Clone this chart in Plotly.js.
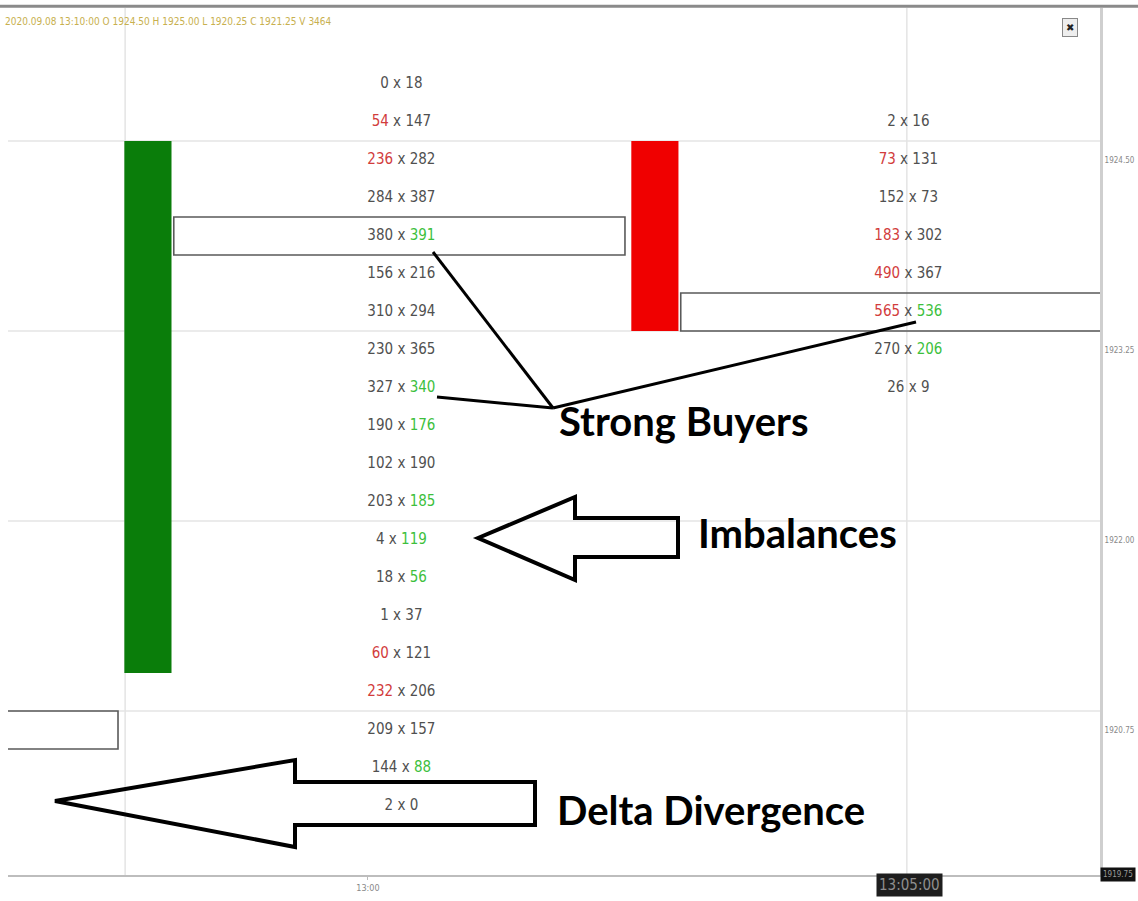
<!DOCTYPE html>
<html>
<head>
<meta charset="utf-8">
<script src="https://cdn.plot.ly/plotly-3.0.1.min.js"></script>
<style>html,body{margin:0;padding:0;background:#fff;}#chart{width:1138px;height:901px;}</style>
</head>
<body>
<div id="chart"></div>
<script>
// ---------- data ----------
const headerText = "2020.09.08 13:10:00 O 1924.50 H 1925.00 L 1920.25 C 1921.25 V 3464";

// price ladder of bar 1 (13:00)
const prices1 = [1925.00,1924.75,1924.50,1924.25,1924.00,1923.75,1923.50,1923.25,1923.00,1922.75,
                 1922.50,1922.25,1922.00,1921.75,1921.50,1921.25,1921.00,1920.75,1920.50,1920.25];
const bid1 = [0,54,236,284,380,156,310,230,327,190,102,203,4,18,1,60,232,209,144,2];
const ask1 = [18,147,282,387,391,216,294,365,340,176,190,185,119,56,37,121,206,157,88,0];
const bidImb1 = [0,1,1,0,0,0,0,0,0,0,0,0,0,0,0,1,1,0,0,0];
const askImb1 = [0,0,0,0,1,0,0,0,1,1,0,1,1,1,0,0,0,0,1,0];

// price ladder of bar 2 (13:05)
const prices2 = [1924.75,1924.50,1924.25,1924.00,1923.75,1923.50,1923.25,1923.00];
const bid2 = [2,73,152,183,490,565,270,26];
const ask2 = [16,131,73,302,367,536,206,9];
const bidImb2 = [0,1,0,1,1,1,0,0];
const askImb2 = [0,0,0,0,0,1,1,0];

// candles (bar slot index, open, close)
const candleSlot  = [0, 1];
const candleOpen  = [1921.25, 1924.50];
const candleClose = [1924.50, 1923.50];

// highlighted imbalance rows (bar slot, price)
const boxSlot  = [-1, 0, 1];
const boxPrice = [1920.75, 1924.00, 1923.50];

// axis labels
const priceTicks = [1924.50, 1923.25, 1922.00, 1920.75];
const priceTickText = ["1924.50", "1923.25", "1922.00", "1920.75"];
const timeTickText = ["13:00"];
const crossTimeText = "13:05:00";
const crossPriceText = "1919.75";

// ---------- layout helpers ----------
const TICK = 0.25;
const L = 8, R = 1100, T = 8, B = 875;
const XR = [-0.276, 1.878], YR = [1919.796, 1925.5];
const px = p => (p - L) / (R - L);            // pixel -> paper x
const py = p => 1 - (p - T) / (B - T);        // pixel -> paper y
const RED = "#d23c3c", GREEN = "#3dbf3d", GRAY = "#505050";

function cellText(b, a, bi, ai) {
  const bs = bi ? `<span style="color:${RED}">${b}</span>` : `${b}`;
  const as = ai ? `<span style="color:${GREEN}">${a}</span>` : `${a}`;
  return bs + " x " + as;
}

const traces = [];
// candles
traces.push({
  type: "bar",
  x: candleSlot,
  base: candleOpen.map((o, i) => Math.min(o, candleClose[i]) - TICK / 2),
  y: candleOpen.map((o, i) => Math.abs(candleClose[i] - o) + TICK),
  width: 0.093,
  marker: {color: candleOpen.map((o, i) => candleClose[i] >= o ? "#0a7d0a" : "#f00000"),
           line: {width: 0}},
  hoverinfo: "skip", showlegend: false
});
// number columns
[[prices1, bid1, ask1, bidImb1, askImb1, 0], [prices2, bid2, ask2, bidImb2, askImb2, 1]].forEach(s => {
  traces.push({
    type: "scatter", mode: "text",
    x: s[0].map(() => s[5] + 0.5),
    y: s[0],
    text: s[0].map((p, i) => cellText(s[1][i], s[2][i], s[3][i], s[4][i])),
    textposition: "middle center",
    textfont: {family: "DejaVu Sans Condensed, sans-serif", size: 15, color: GRAY},
    hoverinfo: "skip", showlegend: false, cliponaxis: false
  });
});

const shapes = [];
// horizontal grid lines (top edge of each labelled row)
priceTicks.forEach(p => shapes.push({type: "line", xref: "paper", yref: "y", x0: 0, x1: 1,
  y0: p + TICK / 2, y1: p + TICK / 2, line: {color: "#e4e4e4", width: 1.5}, layer: "below"}));
// vertical grid lines
[-0.045, 1.497].forEach(x => shapes.push({type: "line", xref: "x", yref: "paper", x0: x, x1: x,
  y0: 0, y1: 1, line: {color: "#e4e4e4", width: 1.5}, layer: "below"}));
// imbalance boxes
boxSlot.forEach((k, i) => shapes.push({type: "rect", xref: "x", yref: "y",
  x0: k + 0.051, x1: k + 0.941, y0: boxPrice[i] - TICK / 2, y1: boxPrice[i] + TICK / 2,
  line: {color: "#5a5a5a", width: 1.6}, fillcolor: "rgba(0,0,0,0)", layer: "below"}));
// top frame line
shapes.push({type: "line", xref: "paper", yref: "paper", x0: -0.01, x1: 1.035, y0: 1.002, y1: 1.002,
  line: {color: "#8a8a8a", width: 3}});
// connector lines to "Strong Buyers"
const poly = pts => "M" + pts.map(p => px(p[0]) + "," + py(p[1])).join(" L") + " Z";
const seg = (a, b) => ({type: "line", xref: "paper", yref: "paper", x0: px(a[0]), y0: py(a[1]),
  x1: px(b[0]), y1: py(b[1]), line: {color: "#000", width: 3}});
shapes.push(seg([433, 252], [553, 408]));
shapes.push(seg([437, 397], [553, 408]));
shapes.push(seg([553, 408], [916, 322]));
// hollow arrows
shapes.push({type: "path", xref: "paper", yref: "paper",
  path: poly([[478, 538], [575, 497], [575, 518], [678, 518], [678, 557], [575, 557], [575, 580]]),
  line: {color: "#000", width: 4}, fillcolor: "rgba(0,0,0,0)"});
shapes.push({type: "path", xref: "paper", yref: "paper",
  path: poly([[55, 801], [295, 760], [295, 782], [535, 782], [535, 825], [295, 825], [295, 847]]),
  line: {color: "#000", width: 4}, fillcolor: "rgba(0,0,0,0)"});

const bigFont = {family: "Lato, Open Sans, sans-serif", size: 40, color: "#000", weight: 700};
const small = (size, color) => ({family: "DejaVu Sans Condensed, sans-serif", size: size, color: color});
const annotations = [
  {xref: "paper", yref: "paper", x: px(683), y: py(421), xanchor: "center", yanchor: "middle",
   text: "Strong Buyers", showarrow: false, font: bigFont},
  {xref: "paper", yref: "paper", x: px(797), y: py(533), xanchor: "center", yanchor: "middle",
   text: "Imbalances", showarrow: false, font: bigFont},
  {xref: "paper", yref: "paper", x: px(711), y: py(810), xanchor: "center", yanchor: "middle",
   text: "Delta Divergence", showarrow: false, font: bigFont},
  {xref: "paper", yref: "paper", x: px(3), y: py(21), xanchor: "left", yanchor: "middle",
   text: headerText, showarrow: false, font: small(10, "#c8b04e")},
  {xref: "paper", yref: "paper", x: px(909), y: py(885), xanchor: "center", yanchor: "middle",
   text: crossTimeText, showarrow: false, bgcolor: "#1e1e1e", borderpad: 2, font: small(15, "#8e8e8e")},
  {xref: "paper", yref: "paper", x: px(1118), y: py(874), xanchor: "center", yanchor: "middle",
   text: crossPriceText, showarrow: false, bgcolor: "#111", borderpad: 2, font: small(8, "#999")},
  {xref: "paper", yref: "paper", x: px(1070), y: py(27), xanchor: "center", yanchor: "middle",
   text: "✖", showarrow: false, bordercolor: "#888", borderwidth: 1, bgcolor: "#eee", borderpad: 3,
   font: {family: "DejaVu Sans, sans-serif", size: 10, color: "#222"}}
];

const layout = {
  width: 1138, height: 901,
  margin: {l: L, r: 1138 - R, t: T, b: 901 - B, pad: 0},
  paper_bgcolor: "#fff", plot_bgcolor: "#fff",
  showlegend: false, barmode: "overlay",
  xaxis: {range: XR, tickmode: "array", tickvals: [0.434], ticktext: timeTickText,
          showgrid: false, zeroline: false, showline: true, linecolor: "#bdbdbd", linewidth: 2,
          ticks: "outside", ticklen: 3, tickcolor: "#bbb",
          tickfont: small(9, "#888"), fixedrange: true},
  yaxis: {range: YR, side: "right", tickmode: "array", tickvals: priceTicks, ticktext: priceTickText,
          showgrid: false, zeroline: false, showline: true, linecolor: "#cfcfcf", linewidth: 3,
          ticks: "", tickfont: small(8, "#888"), fixedrange: true},
  shapes: shapes, annotations: annotations
};

Plotly.newPlot("chart", traces, layout, {displayModeBar: false, staticPlot: true});
</script>
</body>
</html>
